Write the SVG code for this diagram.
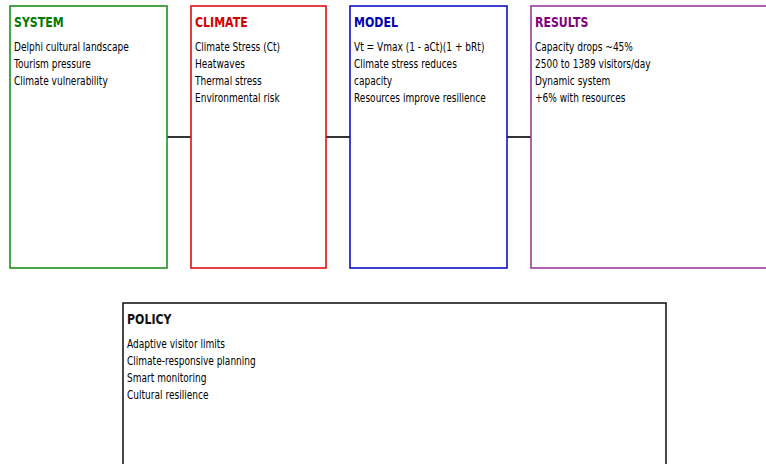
<svg xmlns="http://www.w3.org/2000/svg" width="766" height="464" viewBox="0 0 766 464">
<style>
.box{fill:#ffffff;stroke-width:1.6}
.t{font-family:"DejaVu Sans","Liberation Sans",sans-serif;font-size:14px;font-weight:bold}
.b{font-family:"DejaVu Sans","Liberation Sans",sans-serif;font-size:11.5px;fill:#000}
.conn{stroke:#000;stroke-width:1.6;fill:none}
</style>
<rect width="766" height="464" fill="#fff"/>
<g id="connectors">
<line class="conn" x1="167" y1="137" x2="191" y2="137"/>
<line class="conn" x1="326" y1="137" x2="350" y2="137"/>
<line class="conn" x1="507" y1="137" x2="531" y2="137"/>
</g>
<g id="system">
<rect class="box" x="10" y="6" width="157" height="262" stroke="#1f8f1f"/>
<g transform="translate(14 0) scale(0.785 1)">
<text class="t" x="0" y="27" fill="#007a00">SYSTEM</text>
<text class="b" x="0" y="51">Delphi cultural landscape</text>
<text class="b" x="0" y="68">Tourism pressure</text>
<text class="b" x="0" y="85">Climate vulnerability</text>
</g>
</g>
<g id="climate">
<rect class="box" x="191" y="6" width="135" height="262" stroke="#e01010"/>
<g transform="translate(195 0) scale(0.785 1)">
<text class="t" x="0" y="27" fill="#d40000">CLIMATE</text>
<text class="b" x="0" y="51">Climate Stress (Ct)</text>
<text class="b" x="0" y="68">Heatwaves</text>
<text class="b" x="0" y="85">Thermal stress</text>
<text class="b" x="0" y="102">Environmental risk</text>
</g>
</g>
<g id="model">
<rect class="box" x="350" y="6" width="157" height="262" stroke="#1010c8"/>
<g transform="translate(354 0) scale(0.785 1)">
<text class="t" x="0" y="27" fill="#0000b0">MODEL</text>
<text class="b" x="0" y="51">Vt = Vmax (1 - aCt)(1 + bRt)</text>
<text class="b" x="0" y="68">Climate stress reduces</text>
<text class="b" x="0" y="85">capacity</text>
<text class="b" x="0" y="102">Resources improve resilience</text>
</g>
</g>
<g id="results">
<rect class="box" x="531" y="6" width="260" height="262" stroke="#9a3a9a"/>
<g transform="translate(535 0) scale(0.785 1)">
<text class="t" x="0" y="27" fill="#800080">RESULTS</text>
<text class="b" x="0" y="51">Capacity drops ~45%</text>
<text class="b" x="0" y="68">2500 to 1389 visitors/day</text>
<text class="b" x="0" y="85">Dynamic system</text>
<text class="b" x="0" y="102">+6% with resources</text>
</g>
</g>
<g id="policy">
<rect class="box" x="123" y="303" width="543" height="200" stroke="#1a1a1a" stroke-width="2"/>
<g transform="translate(127 0) scale(0.785 1)">
<text class="t" x="0" y="324" fill="#111">POLICY</text>
<text class="b" x="0" y="348">Adaptive visitor limits</text>
<text class="b" x="0" y="365">Climate-responsive planning</text>
<text class="b" x="0" y="382">Smart monitoring</text>
<text class="b" x="0" y="399">Cultural resilience</text>
</g>
</g>
</svg>
